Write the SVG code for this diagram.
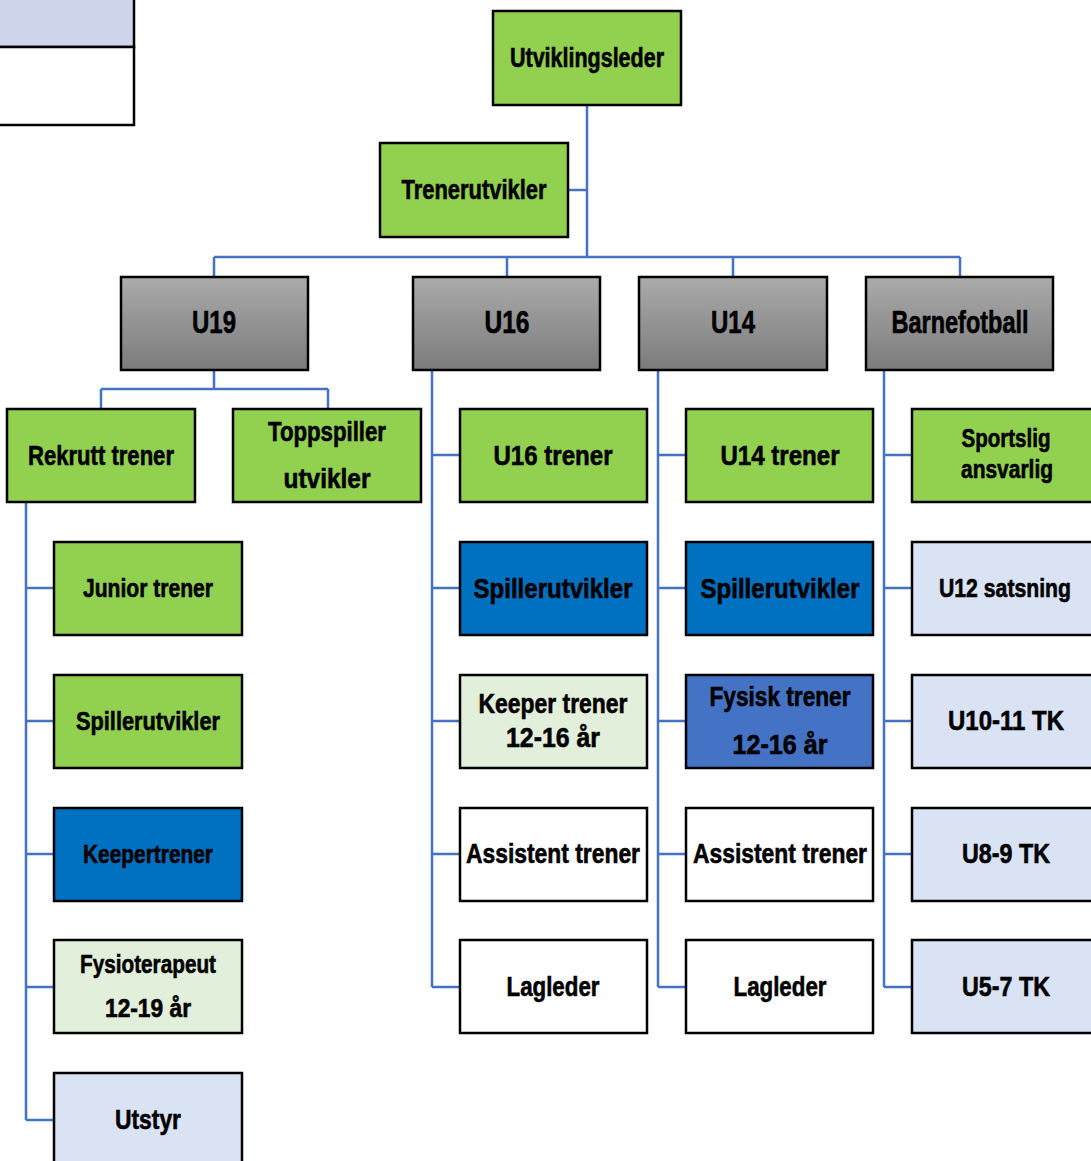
<svg xmlns="http://www.w3.org/2000/svg" width="1091" height="1161" viewBox="0 0 1091 1161">
<defs>
<linearGradient id="gray" x1="0" y1="0" x2="0" y2="1">
<stop offset="0" stop-color="#ababab"/>
<stop offset="1" stop-color="#7b7b7b"/>
</linearGradient>
<style>
.b{stroke:#000;stroke-width:2.5}
.g{fill:#92D050}
.gr{fill:url(#gray)}
.db{fill:#0070C0}
.mb{fill:#4472C4}
.lg{fill:#E2EFDA}
.lb{fill:#DAE3F3}
.w{fill:#fff}
text{font-family:"Liberation Sans",Arial,sans-serif;font-weight:bold;fill:#000;stroke:#000;stroke-width:0.6;text-anchor:middle}
.t{font-size:28px}
.s{font-size:26px}
.h{font-size:31px}
.c{fill:none;stroke:#4472C4;stroke-width:2.5}
</style>
</defs>
<g id="legend">
<rect x="-5" y="-5" width="139" height="52" fill="#CFD5EA" class="b"/>
<rect x="-5" y="47" width="139" height="78" fill="#fff" class="b"/>
</g>
<g id="connectors">
<path class="c" d="M587 105V257M568 190H587M214 257H960M214 257V277M507 257V277M733 257V277M960 257V277"/>
<path class="c" d="M214 370V389M101 389H328M101 389V409M328 389V409"/>
<path class="c" d="M26 502V1120M26 588H54M26 721H54M26 854H54M26 987H54M26 1120H54"/>
<path class="c" d="M432 370V987M432 455H460M432 588H460M432 721H460M432 854H460M432 987H460"/>
<path class="c" d="M658 370V987M658 455H686M658 588H686M658 721H686M658 854H686M658 987H686"/>
<path class="c" d="M884 370V987M884 455H912M884 588H912M884 721H912M884 854H912M884 987H912"/>
</g>
<g id="utviklingsleder"><rect x="493" y="11" width="188" height="94" class="b g"/><text class="t" x="587" y="67" textLength="154" lengthAdjust="spacingAndGlyphs">Utviklingsleder</text></g>
<g id="trenerutvikler"><rect x="380" y="143" width="188" height="94" class="b g"/><text class="t" x="474" y="199" textLength="145" lengthAdjust="spacingAndGlyphs">Trenerutvikler</text></g>
<g id="u19"><rect x="121" y="277" width="187" height="93" class="b gr" stroke-width="1.5"/><text class="h" x="214" y="333" textLength="44" lengthAdjust="spacingAndGlyphs">U19</text></g>
<g id="u16"><rect x="413" y="277" width="187" height="93" class="b gr" stroke-width="1.5"/><text class="h" x="507" y="333" textLength="45" lengthAdjust="spacingAndGlyphs">U16</text></g>
<g id="u14"><rect x="639" y="277" width="188" height="93" class="b gr" stroke-width="1.5"/><text class="h" x="733" y="333" textLength="44" lengthAdjust="spacingAndGlyphs">U14</text></g>
<g id="barnefotball"><rect x="866" y="277" width="187" height="93" class="b gr" stroke-width="1.5"/><text class="h" x="960" y="333" textLength="137" lengthAdjust="spacingAndGlyphs">Barnefotball</text></g>
<g id="rekrutt"><rect x="7" y="409" width="188" height="93" class="b g"/><text class="t" x="101" y="465" textLength="146" lengthAdjust="spacingAndGlyphs">Rekrutt trener</text></g>
<g id="toppspiller"><rect x="233" y="409" width="188" height="93" class="b g"/><text class="t" x="327" y="441" textLength="118" lengthAdjust="spacingAndGlyphs">Toppspiller</text><text class="t" x="327" y="488" textLength="87" lengthAdjust="spacingAndGlyphs">utvikler</text></g>
<g id="junior"><rect x="54" y="542" width="188" height="93" class="b g"/><text class="s" x="148" y="597" textLength="130" lengthAdjust="spacingAndGlyphs">Junior trener</text></g>
<g id="spillerutvikler19"><rect x="54" y="675" width="188" height="93" class="b g"/><text class="s" x="148" y="730" textLength="144" lengthAdjust="spacingAndGlyphs">Spillerutvikler</text></g>
<g id="keepertrener"><rect x="54" y="808" width="188" height="93" class="b db"/><text class="s" x="148" y="863" textLength="130" lengthAdjust="spacingAndGlyphs">Keepertrener</text></g>
<g id="fysioterapeut"><rect x="54" y="940" width="188" height="93" class="b lg"/><text class="s" x="148" y="973" textLength="136" lengthAdjust="spacingAndGlyphs">Fysioterapeut</text><text class="s" x="148" y="1017" textLength="86" lengthAdjust="spacingAndGlyphs">12-19 år</text></g>
<g id="utstyr"><rect x="54" y="1073" width="188" height="100" class="b lb"/><text class="t" x="148" y="1129" textLength="66" lengthAdjust="spacingAndGlyphs">Utstyr</text></g>
<g id="u16trener"><rect x="460" y="409" width="187" height="93" class="b g"/><text class="t" x="553" y="465" textLength="119" lengthAdjust="spacingAndGlyphs">U16 trener</text></g>
<g id="spillerutvikler16"><rect x="460" y="542" width="187" height="93" class="b db"/><text class="t" x="553" y="598" textLength="159" lengthAdjust="spacingAndGlyphs">Spillerutvikler</text></g>
<g id="keepertrener16"><rect x="460" y="675" width="187" height="93" class="b lg"/><text class="t" x="553" y="713" textLength="149" lengthAdjust="spacingAndGlyphs">Keeper trener</text><text class="t" x="553" y="747" textLength="94" lengthAdjust="spacingAndGlyphs">12-16 år</text></g>
<g id="assistent16"><rect x="460" y="808" width="187" height="93" class="b w"/><text class="t" x="553" y="863" textLength="174" lengthAdjust="spacingAndGlyphs">Assistent trener</text></g>
<g id="lagleder16"><rect x="460" y="940" width="187" height="93" class="b w"/><text class="t" x="553" y="996" textLength="93" lengthAdjust="spacingAndGlyphs">Lagleder</text></g>
<g id="u14trener"><rect x="686" y="409" width="187" height="93" class="b g"/><text class="t" x="780" y="465" textLength="119" lengthAdjust="spacingAndGlyphs">U14 trener</text></g>
<g id="spillerutvikler14"><rect x="686" y="542" width="187" height="93" class="b db"/><text class="t" x="780" y="598" textLength="159" lengthAdjust="spacingAndGlyphs">Spillerutvikler</text></g>
<g id="fysisk"><rect x="686" y="675" width="187" height="93" class="b mb"/><text class="t" x="780" y="706" textLength="141" lengthAdjust="spacingAndGlyphs">Fysisk trener</text><text class="t" x="780" y="754" textLength="95" lengthAdjust="spacingAndGlyphs">12-16 år</text></g>
<g id="assistent14"><rect x="686" y="808" width="187" height="93" class="b w"/><text class="t" x="780" y="863" textLength="174" lengthAdjust="spacingAndGlyphs">Assistent trener</text></g>
<g id="lagleder14"><rect x="686" y="940" width="187" height="93" class="b w"/><text class="t" x="780" y="996" textLength="93" lengthAdjust="spacingAndGlyphs">Lagleder</text></g>
<g id="sportslig"><rect x="912" y="409" width="187" height="93" class="b g"/><text class="s" x="1006" y="447" textLength="89" lengthAdjust="spacingAndGlyphs">Sportslig</text><text class="s" x="1007" y="478" textLength="92" lengthAdjust="spacingAndGlyphs">ansvarlig</text></g>
<g id="u12"><rect x="912" y="542" width="187" height="93" class="b lb"/><text class="s" x="1005" y="597" textLength="132" lengthAdjust="spacingAndGlyphs">U12 satsning</text></g>
<g id="u1011"><rect x="912" y="675" width="187" height="93" class="b lb"/><text class="t" x="1006" y="730" textLength="116" lengthAdjust="spacingAndGlyphs">U10-11 TK</text></g>
<g id="u89"><rect x="912" y="808" width="187" height="93" class="b lb"/><text class="t" x="1006" y="863" textLength="88" lengthAdjust="spacingAndGlyphs">U8-9 TK</text></g>
<g id="u57"><rect x="912" y="940" width="187" height="93" class="b lb"/><text class="t" x="1006" y="996" textLength="88" lengthAdjust="spacingAndGlyphs">U5-7 TK</text></g>
</svg>
